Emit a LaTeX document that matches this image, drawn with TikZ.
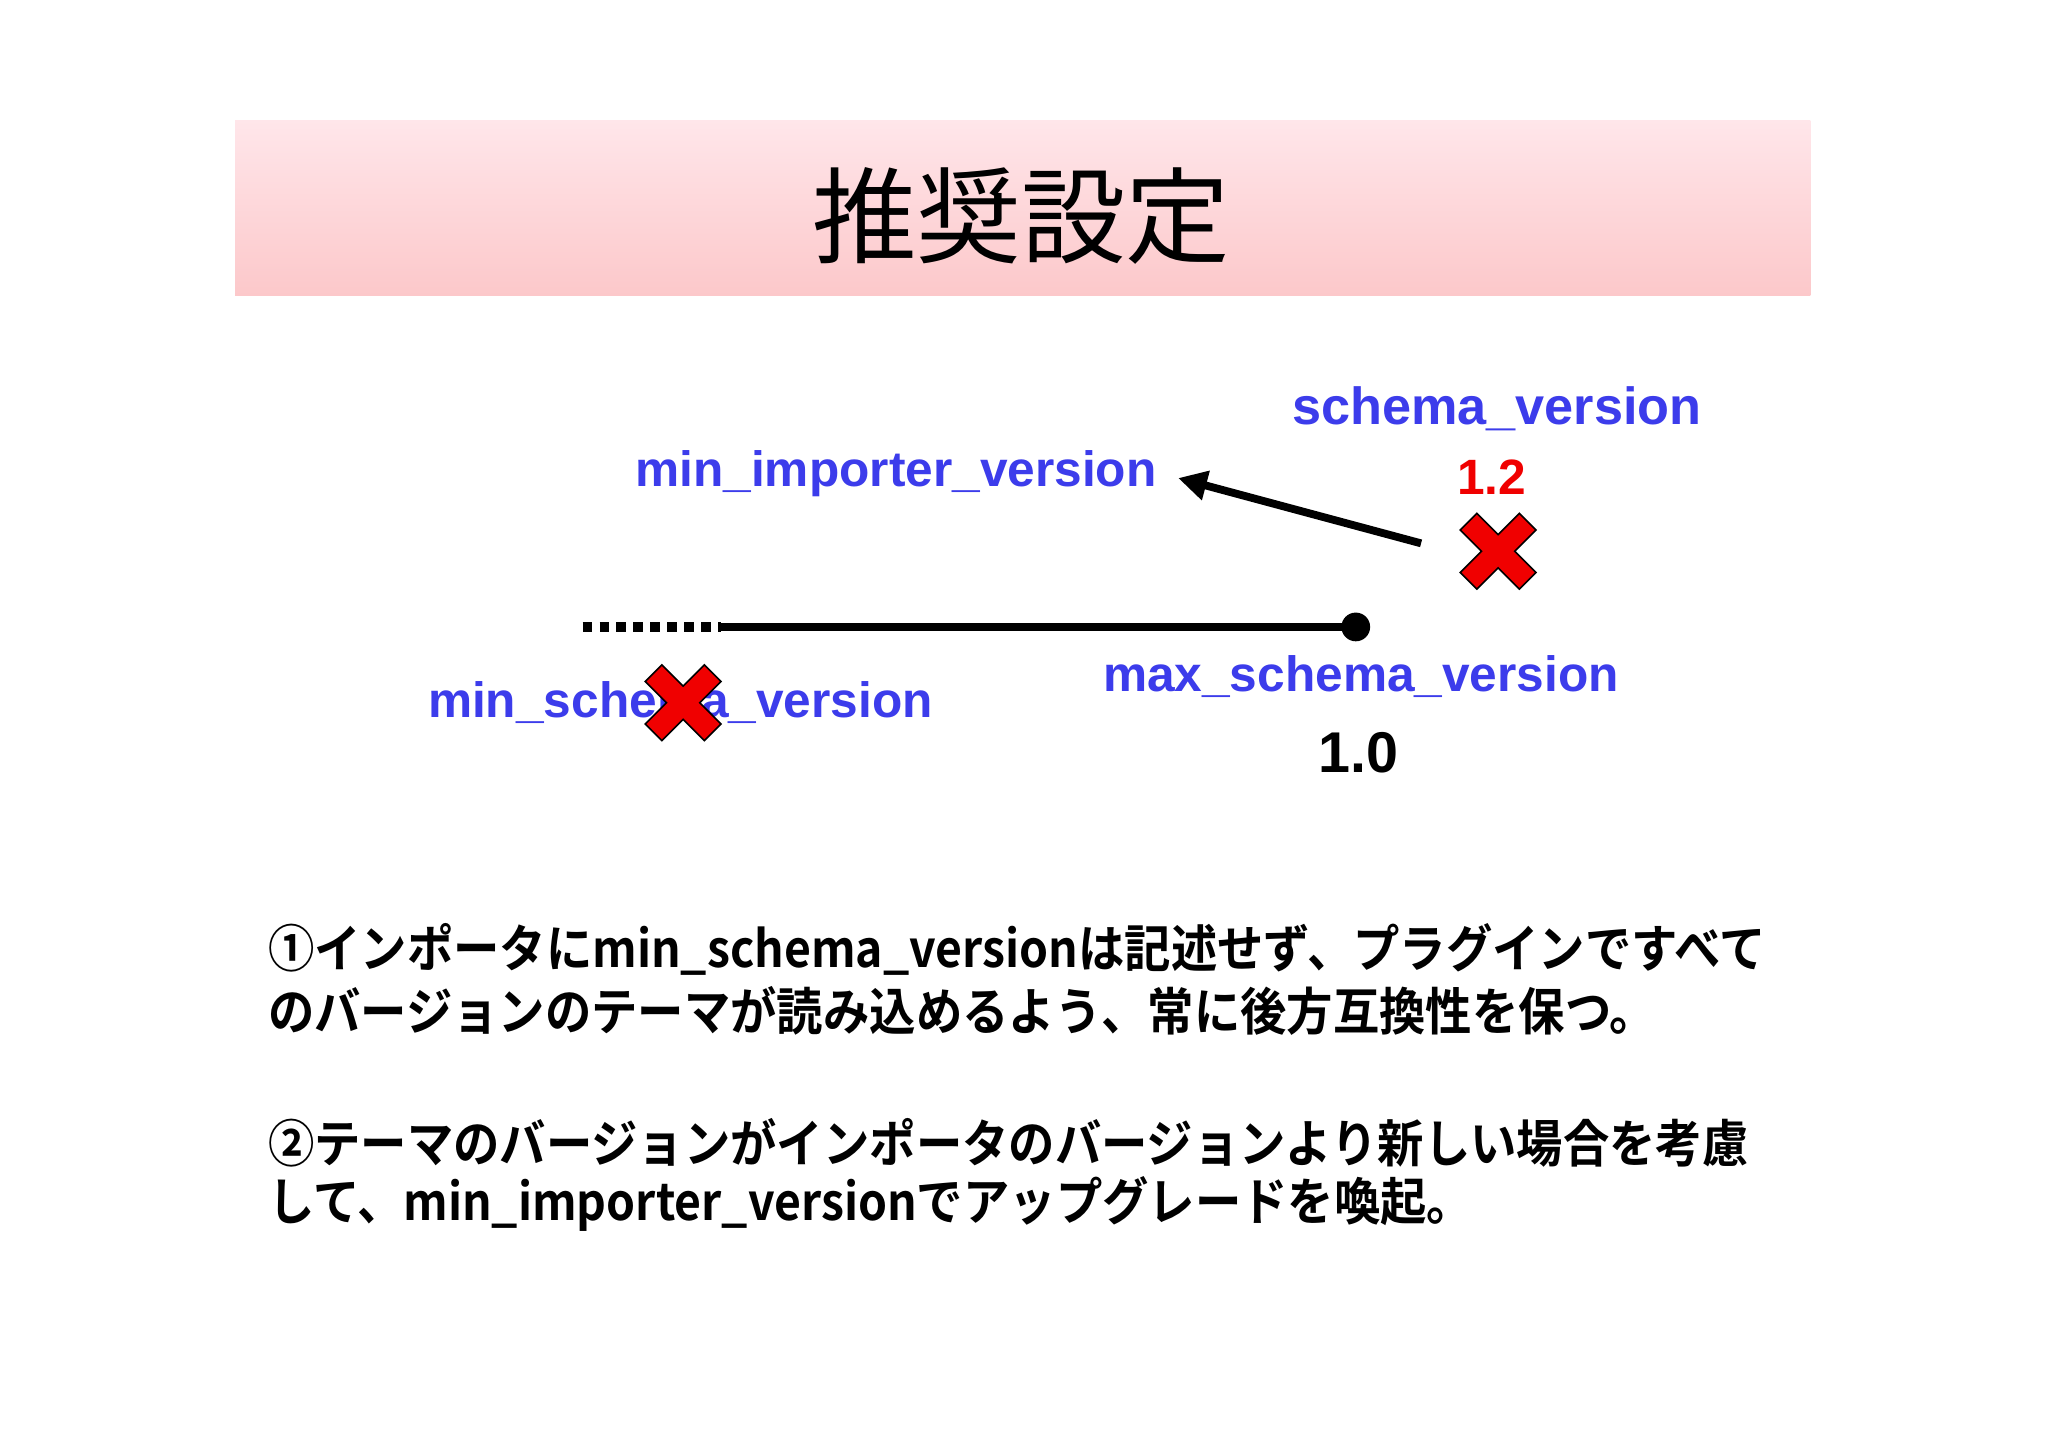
\documentclass[tikz,border=0pt]{standalone}
\usetikzlibrary{arrows.meta}
\usepackage{fontspec}
\setmainfont{Liberation Sans}
\newfontfamily\jp{Noto Sans CJK JP}
\newfontfamily\jpb{Noto Sans CJK JP Bold}
\definecolor{lblue}{RGB}{60,60,235}
\definecolor{xred}{RGB}{240,0,0}
\newcommand{\bodyline}[1]{\scalebox{0.91}[1]{#1}}
\tikzset{
 lab/.style={text=lblue,font=\fontsize{38}{40}\selectfont\bfseries,inner sep=0},
 body/.style={anchor=west,inner sep=0,font=\fontsize{39}{44}\selectfont\jpb},
 crossx/.pic={\draw[fill=xred,line width=1.2pt,rotate=45] (9,32)--(9,9)--(32,9)--(32,-9)--(9,-9)--(9,-32)--(-9,-32)--(-9,-9)--(-32,-9)--(-32,9)--(-9,9)--(-9,32)--cycle;}
}
\begin{document}
\begin{tikzpicture}[x=1pt,y=-1pt]
\useasboundingbox (0,0) rectangle (1568,1108);
\fill[white] (0,0) rectangle (1568,1108);
\shade[top color={rgb,255:red,255;green,230;blue,234},bottom color={rgb,255:red,252;green,200;blue,202}] (180,92) rectangle (1386,226);
\node[inner sep=0,font=\fontsize{80}{80}\selectfont\jp] (title) at (782,165) {推奨設定};
\node[lab,font=\fontsize{40}{42}\selectfont\bfseries] (sv) at (1146,313) {schema\_version};
\node[lab,text=xred] (v12) at (1142,365) {1.2};
\pic at (1147,422) {crossx};
\node[lab] (miv) at (686,363) {min\_importer\_version};
\coordinate (as) at (1088,416);
\coordinate (ae) at (902,366);
\draw[line width=6pt,-{Triangle[length=22pt,width=22pt]}] (as) -- (ae);
\coordinate (d0) at (446,480);
\coordinate (d1) at (552,480);
\coordinate (e) at (1038,480);
\draw[line width=7pt,dash pattern=on 7pt off 6pt] (d0) -- (d1);
\draw[line width=6pt] (d1) -- (e);
\fill (e) circle (11);
\node[lab] (mxs) at (1042,518) {max\_schema\_version};
\node[lab,text=black,font=\fontsize{44}{46}\selectfont\bfseries] (v10) at (1040,576) {1.0};
\node[lab] (mns) at (521,538) {min\_schema\_version};
\pic at (523,538) {crossx};
\node[body] (l1) at (205,727) {\bodyline{①インポータにmin\_schema\_versionは記述せず、プラグインですべて}};
\node[body] (l2) at (205,774) {\bodyline{のバージョンのテーマが読み込めるよう、常に後方互換性を保つ。}};
\node[body] (l3) at (205,875) {\bodyline{②テーマのバージョンがインポータのバージョンより新しい場合を考慮}};
\node[body] (l4) at (205,922) {\bodyline{して、min\_importer\_versionでアップグレードを喚起。}};
\end{tikzpicture}
\end{document}
